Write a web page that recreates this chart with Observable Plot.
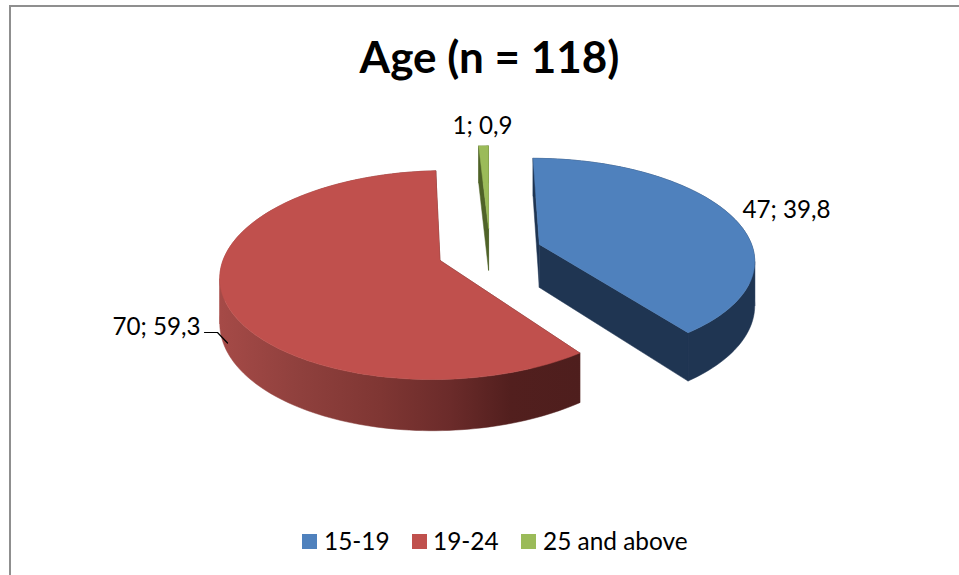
<!DOCTYPE html>
<html>
<head>
<meta charset="utf-8">
<script src="https://cdn.jsdelivr.net/npm/d3@7"></script>
<script src="https://cdn.jsdelivr.net/npm/@observablehq/plot@0.6"></script>
<style>
  html, body { margin: 0; padding: 0; background: #fff; }
  #page { position: relative; width: 959px; height: 575px; overflow: hidden; font-family: Lato, sans-serif; color: #000; }
  #frame { position: absolute; left: 9px; top: 5px; right: -4px; bottom: -4px; border: 2px solid #8f8f8f; }
  #title { position: absolute; left: 0; top: 28px; width: 979px; text-align: center; font-size: 44px; font-weight: 700; line-height: 56px; }
  #chart { position: absolute; left: 0; top: 95px; }
  .key { position: absolute; top: 526px; font-size: 24.4px; line-height: 30px; white-space: nowrap; }
  .sw { position: absolute; top: 534px; width: 15px; height: 15px; }
</style>
</head>
<body>
<div id="page">
  <div id="frame"></div>
  <div id="title"></div>
  <div id="chart"></div>
  <div id="legend"></div>
</div>
<script>
const titleText = "Age (n = 118)";
const categories = ["15-19", "19-24", "25 and above"];
const counts = [47, 70, 1];
const percents = ["39,8", "59,3", "0,9"];
const topColors = ["#4f81bd", "#c0504d", "#9bbb59"];
const sideColors = ["#1f3552", "url(#redWall)", "#4f6228"];
const cutColors = ["#1f3552", "#4e1e1d", "#4f6228"];

// projection of the tilted, exploded pie
const view = {cx: 489.5, vx: 487, y0: 251.5, R: 214.5, S: 100, p: 0.139, explode: 0.245, depth: 43.5};
function project(U, V, low) {
  const w = 1 + view.p * V;
  return {
    x: view.vx + (view.cx - view.vx + view.R * U) / w,
    y: view.y0 - view.S * V / w + (low ? view.depth / w : 0)
  };
}

const arcs = d3.pie().sort(null)(counts);
const pieces = [];
let pieceId = 0;
function addPiece(points, color) {
  const id = pieceId++;
  for (const p of [...points, points[0]]) pieces.push({...p, id, color});
}
arcs.forEach((arc, i) => {
  const mid = (arc.startAngle + arc.endAngle) / 2;
  const ou = view.explode * Math.sin(mid), ov = view.explode * Math.cos(mid);
  const rim = a => [ou + Math.sin(a), ov + Math.cos(a)];
  const steps = Math.max(2, Math.ceil((arc.endAngle - arc.startAngle) / (Math.PI / 120)));
  const angles = d3.range(steps + 1).map(k => arc.startAngle + (arc.endAngle - arc.startAngle) * k / steps);
  // cut faces
  for (const a of [arc.startAngle, arc.endAngle]) {
    const [u, v] = rim(a);
    addPiece([project(ou, ov), project(u, v), project(u, v, true), project(ou, ov, true)], cutColors[i]);
  }
  // outer wall, split where the rim turns back in x so the outline stays filled
  const xs = angles.map(a => project(...rim(a)).x);
  let from = 0;
  for (let k = 1; k <= steps; k++) {
    const turns = k < steps && (xs[k] - xs[k - 1]) * (xs[k + 1] - xs[k]) < 0;
    if (turns || k === steps) {
      const part = angles.slice(from, k + 1);
      addPiece([
        ...part.map(a => project(...rim(a))),
        ...part.slice().reverse().map(a => project(...rim(a), true))
      ], sideColors[i]);
      from = k;
    }
  }
  // top face
  addPiece([project(ou, ov), ...angles.map(a => project(...rim(a)))], topColors[i]);
});

const labels = [
  {text: `${counts[0]}; ${percents[0]}`, x: 786, y: 210},
  {text: `${counts[1]}; ${percents[1]}`, x: 156, y: 327},
  {text: `${counts[2]}; ${percents[2]}`, x: 482, y: 125.5}
];
const leader = [{x: 204, y: 332}, {x: 217, y: 332}, {x: 227, y: 342.5}];

const wallStops = [[220, "#a54a47"], [300, "#8f403d"], [380, "#7f3633"], [450, "#6b2b2a"], [510, "#521f1e"], [580, "#4e1e1d"]];
function wallGradient() {
  const defs = d3.create("svg:defs");
  const g = defs.append("linearGradient").attr("id", "redWall")
    .attr("gradientUnits", "userSpaceOnUse")
    .attr("x1", 220).attr("x2", 580).attr("y1", 0).attr("y2", 0);
  for (const [x, c] of wallStops) {
    g.append("stop").attr("offset", (x - 220) / 360).attr("stop-color", c);
  }
  return defs.node();
}

const chart = Plot.plot({
  width: 959, height: 425,
  margin: 0,
  x: {domain: [0, 959], range: [0, 959], axis: null},
  y: {domain: [95, 520], range: [0, 425], axis: null},
  color: {type: "identity"},
  style: {background: "transparent"},
  marks: [
    wallGradient,
    Plot.line(pieces, {x: "x", y: "y", z: "id", fill: "color", stroke: "color", strokeWidth: 0.5, curve: "linear"}),
    Plot.line(leader, {x: "x", y: "y", stroke: "#000", strokeWidth: 1.2, curve: "linear"}),
    Plot.text(labels, {x: "x", y: "y", text: "text", fontSize: 24.2, fill: "#000", fontFamily: "Lato, sans-serif"})
  ]
});
document.getElementById("chart").append(chart);
document.getElementById("title").textContent = titleText;

const swatchX = [302, 412, 521];
const keyX = [324, 433, 543];
const legend = document.getElementById("legend");
categories.forEach((c, i) => {
  const s = document.createElement("div");
  s.className = "sw"; s.style.left = swatchX[i] + "px"; s.style.background = topColors[i];
  const t = document.createElement("div");
  t.className = "key"; t.style.left = keyX[i] + "px"; t.textContent = c;
  legend.append(s, t);
});
</script>
</body>
</html>
